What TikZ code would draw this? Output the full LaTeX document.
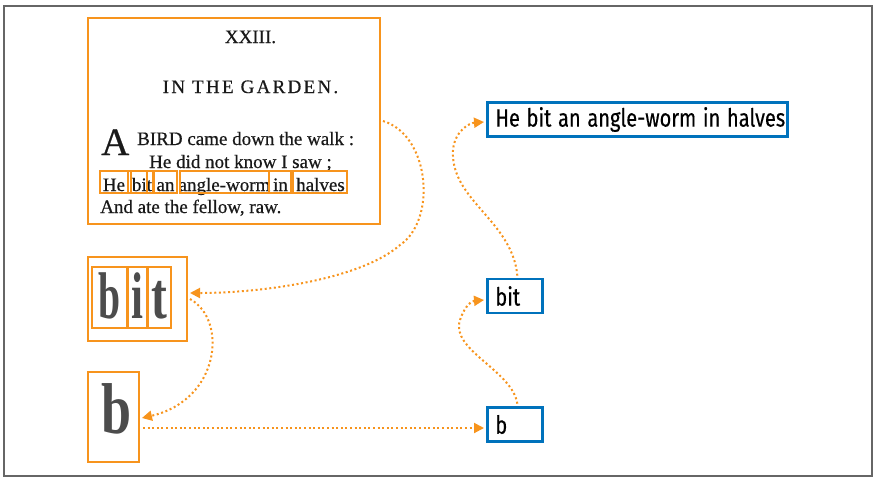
\documentclass[tikz,border=0pt]{standalone}
\usepackage{fontspec}
\setmainfont{Liberation Serif}
\newfontfamily\pagefont[FakeBold=0.6]{Liberation Serif}
\newfontfamily\titlefont[LetterSpace=12,FakeBold=0.6]{Liberation Serif}
\newfontfamily\bluefont[FakeBold=0.4]{Fira Sans}
\usetikzlibrary{arrows.meta,calc}
\definecolor{ora}{RGB}{247,148,29}
\definecolor{blu}{RGB}{0,114,188}
\definecolor{frm}{RGB}{102,102,102}
\newsavebox\fullbluebox
\newcommand\bluetxt[1]{\scalebox{\bscale}[1]{#1}}
\tikzset{
 obox/.style={draw=ora, line width=2pt, inner sep=0pt},
 wbox/.style={draw=ora, line width=1.8pt},
 bluebox/.style={draw=blu, line width=2.7pt, inner xsep=8pt, inner ysep=0pt, minimum height=34pt, anchor=west, align=left, font=\bluefont\fontsize{25}{25}\selectfont},
 conn/.style={draw=ora, line width=2pt, dash pattern=on 2pt off 2.6pt, -{Triangle[length=10pt,width=10pt]}},
 ptext/.style={inner sep=0pt, anchor=base west, font=\pagefont\fontsize{19}{19}\selectfont, text=black!90},
 glyph/.style={inner sep=0pt, anchor=base, text=black!70},
}
\begin{document}
\sbox\fullbluebox{\bluefont\fontsize{25}{25}\selectfont He bit an angle-worm in halves}%
\pgfmathsetmacro\bscale{283/\wd\fullbluebox}%
\begin{tikzpicture}[x=1pt,y=-1pt]
\useasboundingbox (0,0) rectangle (877,480);
\draw[frm, line width=1.5pt] (4,6) rectangle (872,476);
% page scan
\node[obox, minimum width=292pt, minimum height=206pt] (page) at (234,121) {};
\node[ptext, anchor=base] (t1) at (250.5,43) {XXIII.};
\node[ptext, anchor=base, font=\titlefont\fontsize{19}{19}\selectfont] (t2) at (250.5,93) {IN THE GARDEN.};
\node[ptext, font=\pagefont\fontsize{39}{39}\selectfont] (dropA) at (101,155) {A};
\node[ptext] (l1) at (137,145) {BIRD came down the walk :};
\node[ptext] (l2) at (149,168) {He did not know I saw ;};
\node[ptext] (l4) at (100,213) {And ate the fellow, raw.};
\node[ptext, anchor=base] (w1) at (114,191) {He};
\node[ptext, anchor=base] (w2) at (142,191) {bit};
\node[ptext, anchor=base] (w3) at (165.5,191) {an};
\node[ptext, anchor=base] (w4) at (224.5,191) {angle-worm};
\node[ptext, anchor=base] (w5) at (280.5,191) {in};
\node[ptext, anchor=base] (w6) at (320.5,191) {halves};
\draw[wbox] (100,171) rectangle (128,193);
\draw[wbox] (128,171) rectangle (131,193);
\draw[wbox] (131,171) rectangle (147,193);
\draw[wbox] (147,171) rectangle (153,193);
\draw[wbox] (154,171) rectangle (177,193);
\draw[wbox] (180,171) rectangle (269,193);
\draw[wbox] (269,171) rectangle (291,193);
\draw[wbox] (293,171) rectangle (347,193);
% bit image
\node[obox, minimum width=99pt, minimum height=84pt] (bitimg) at (137.5,299) {};
\node[glyph] (gb) at (109.5,318) {\scalebox{0.6}[1]{\fontsize{66}{66}\selectfont\bfseries b}};
\node[glyph] (gi) at (137.5,318) {\scalebox{0.65}[1]{\fontsize{66}{66}\selectfont\bfseries i}};
\node[glyph] (gt) at (159.5,318) {\scalebox{0.72}[1]{\fontsize{66}{66}\selectfont\bfseries t}};
\draw[wbox] (92,267) rectangle (127,328);
\draw[wbox] (128,267) rectangle (147,328);
\draw[wbox] (148,267) rectangle (171,328);
% b image
\node[obox, minimum width=51pt, minimum height=90pt] (bimg) at (113.5,417) {};
\node[glyph] (gb2) at (117,433) {\scalebox{0.75}[1]{\fontsize{72}{72}\selectfont\bfseries b}};
% blue boxes
\node[bluebox, text width=284pt] (bfull) at (486,119.5) {\bluetxt{He bit an angle-worm in halves}};
\node[bluebox, text width=39pt] (bbit) at (486,296) {\bluetxt{bit}};
\node[bluebox, text width=39pt] (bb) at (486,424.5) {\bluetxt{b}};
% connectors
\draw[conn] ($(page.east)+(2,0)$) .. controls (430,135) and (437,220) .. (400,245) .. controls (360,280) and (260,293) .. ($(bitimg.east)+(2,-6)$);
\draw[conn] ($(bitimg.east)+(2,0)$) .. controls (228,320) and (220,400) .. ($(bimg.east)+(2,1)$);
\draw[conn] ($(bimg.east)+(3,11)$) -- ($(bb.west)+(-2,3.5)$);
\draw[conn] ($(bb.north)+(2.5,-2.5)$) .. controls (512,370) and (450,350) .. (460,320) .. controls (465,305) and (472,301) .. ($(bbit.west)+(-2,4)$);
\draw[conn] ($(bbit.north)+(2.5,-2)$) .. controls (512,220) and (450,200) .. (453,150) .. controls (455,130) and (470,123) .. ($(bfull.west)+(-2,2.5)$);
\end{tikzpicture}
\end{document}
